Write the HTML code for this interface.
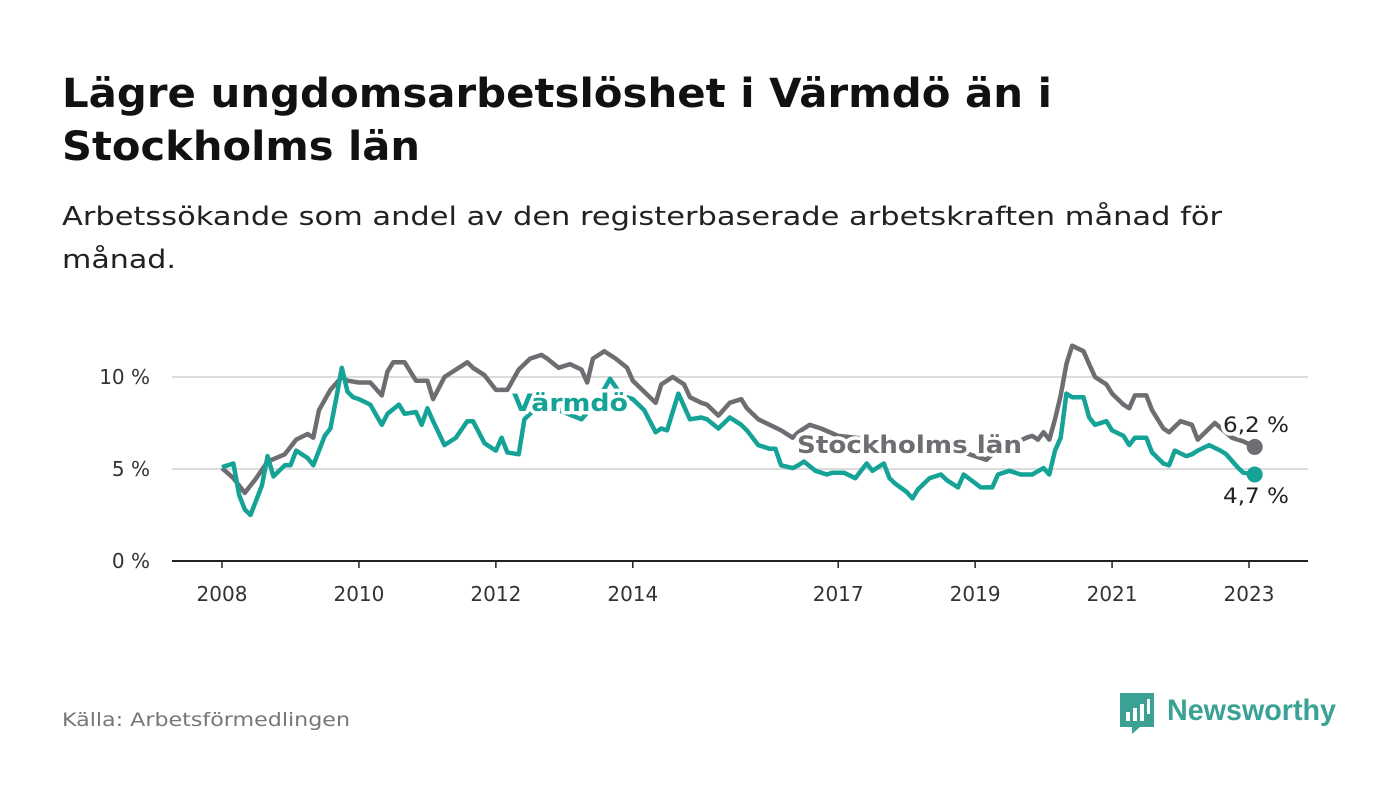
<!DOCTYPE html>
<html><head><meta charset="utf-8"><style>
html,body{margin:0;padding:0;background:#fff;}
svg{display:block;font-family:"DejaVu Sans","Liberation Sans",sans-serif;}
</style></head><body>
<svg id="chart" width="1400" height="794" viewBox="0 0 1400 794" xmlns="http://www.w3.org/2000/svg">
<text x="62" y="107" font-size="40" font-weight="bold" fill="#111" textLength="990" lengthAdjust="spacingAndGlyphs">Lägre ungdomsarbetslöshet i Värmdö än i</text>
<text x="62" y="160" font-size="40" font-weight="bold" fill="#111" textLength="358" lengthAdjust="spacingAndGlyphs">Stockholms län</text>
<text x="62" y="225" font-size="26" fill="#222" textLength="1160" lengthAdjust="spacingAndGlyphs">Arbetssökande som andel av den registerbaserade arbetskraften månad för</text>
<text x="62" y="268" font-size="26" fill="#222" textLength="114" lengthAdjust="spacingAndGlyphs">månad.</text>
<g id="grid"></g>
<g id="series"></g>
<g id="labels"></g>
<text x="62" y="726" font-size="19" fill="#777" textLength="288" lengthAdjust="spacingAndGlyphs">Källa: Arbetsförmedlingen</text>
<g>
<path d="M1120 693 h34 v34 h-14 l-8 7 v-7 h-12 z" fill="#3aa194"/>
<rect x="1126" y="712" width="4" height="9" fill="#fff"/>
<rect x="1133" y="708" width="4" height="13" fill="#fff"/>
<rect x="1140" y="704" width="4" height="17" fill="#fff"/>
<rect x="1147" y="699" width="3" height="15" fill="#fff"/>
<text x="1167" y="720" font-size="30" font-weight="bold" fill="#3aa194" textLength="169" lengthAdjust="spacingAndGlyphs" font-family="Liberation Sans, sans-serif">Newsworthy</text>
</g>
</svg>
<script>
const yTicks = [0, 5, 10];
const yTickLabels = ["0 %", "5 %", "10 %"];
const xTickMonths = [0, 24, 48, 72, 108, 132, 156, 180];
const xTickLabels = ["2008", "2010", "2012", "2014", "2017", "2019", "2021", "2023"];
const stockholmMonths = [0,2,4,6,8,11,13,15,16,17,19,21,22,24,26,28,29,30,32,34,36,37,39,41,43,44,46,48,50,52,54,56,57,59,61,63,64,65,67,69,71,72,74,76,77,79,81,82,84,85,87,89,91,92,94,96,98,100,101,103,105,108,114,119,124,129,134,135,141,142,143,144,145,146,147,148,149,151,152,153,155,156,158,159,160,162,163,165,166,168,170,171,173,174,177,179,181];
const stockholmValues = [5.05,4.5,3.7,4.5,5.4,5.8,6.6,6.9,6.7,8.2,9.3,10.0,9.8,9.7,9.7,9.0,10.3,10.8,10.8,9.8,9.8,8.8,10.0,10.4,10.8,10.5,10.1,9.3,9.3,10.4,11.0,11.2,11.0,10.5,10.7,10.4,9.7,11.0,11.4,11.0,10.5,9.8,9.2,8.6,9.6,10.0,9.6,8.9,8.6,8.5,7.9,8.6,8.8,8.3,7.7,7.4,7.1,6.7,7.0,7.4,7.2,6.8,6.6,6.3,6.3,6.0,5.5,5.8,6.7,6.8,6.6,7.0,6.6,7.7,9.0,10.7,11.7,11.4,10.7,10.0,9.6,9.1,8.5,8.3,9.0,9.0,8.2,7.2,7.0,7.6,7.4,6.6,7.2,7.5,6.7,6.5,6.2];
const varmdoMonths = [0,2,3,4,5,7,8,9,11,12,13,15,16,18,19,20,21,22,23,24,26,28,29,31,32,34,35,36,37,39,41,43,44,46,48,49,50,52,53,56,59,63,66,68,70,72,74,76,77,78,80,82,84,85,87,89,91,92,94,96,97,98,100,101,102,104,106,107,109,111,112,113,114,116,117,118,120,121,122,124,126,127,129,130,133,135,136,138,140,142,144,145,146,147,148,149,151,152,153,155,156,158,159,160,162,163,165,166,167,169,170,171,173,175,176,178,179,181];
const varmdoValues = [5.1,5.3,3.6,2.8,2.5,4.1,5.7,4.6,5.2,5.2,6.0,5.6,5.2,6.8,7.2,8.8,10.5,9.2,8.9,8.8,8.5,7.4,8.0,8.5,8.0,8.1,7.4,8.3,7.6,6.3,6.7,7.6,7.6,6.4,6.0,6.7,5.9,5.8,7.7,8.6,8.2,7.7,8.8,9.9,9.0,8.8,8.2,7.0,7.2,7.1,9.1,7.7,7.8,7.7,7.2,7.8,7.4,7.1,6.3,6.1,6.1,5.2,5.05,5.2,5.4,4.9,4.7,4.8,4.8,4.5,4.9,5.3,4.9,5.3,4.5,4.2,3.75,3.4,3.9,4.5,4.7,4.4,4.0,4.7,4.0,4.0,4.7,4.9,4.7,4.7,5.05,4.7,6.0,6.7,9.1,8.9,8.9,7.8,7.4,7.6,7.1,6.8,6.3,6.7,6.7,5.9,5.3,5.2,6.0,5.7,5.8,6.0,6.3,6.0,5.8,5.1,4.8,4.7];

const NS = "http://www.w3.org/2000/svg";
const x = m => 222 + m * (1249 - 222) / 180;
const y = v => 561 - v * 18.4;
function mk(tag, attrs, parent, txt) {
  const e = document.createElementNS(NS, tag);
  for (const k in attrs) e.setAttribute(k, attrs[k]);
  if (txt !== undefined) e.textContent = txt;
  parent.appendChild(e);
  return e;
}
const grid = document.getElementById('grid');
yTicks.forEach((t, i) => {
  if (t > 0) {
    const gl = mk('line', {x1:172, x2:1308, y1:y(t), y2:y(t), stroke:'#dcdcdc', 'stroke-width':2}, grid);
    
    
  }
  const tl = mk('text', {x:150, y:y(t)+7, 'font-size':20, fill:'#333', 'text-anchor':'end'}, grid, yTickLabels[i]);
  
  
});
const ax = mk('line', {x1:172, x2:1308, y1:561, y2:561, stroke:'#222', 'stroke-width':2}, grid);


xTickMonths.forEach((m, i) => {
  const tk = mk('line', {x1:x(m), x2:x(m), y1:561, y2:568, stroke:'#222', 'stroke-width':1.5}, grid);
  
  
  const tl = mk('text', {x:x(m), y:601, 'font-size':20, fill:'#333', 'text-anchor':'middle'}, grid, xTickLabels[i]);
  
  
});
const series = document.getElementById('series');
function line(ms, vs, color, name) {
  const d = ms.map((m, i) => (i ? 'L' : 'M') + x(m).toFixed(1) + ' ' + y(vs[i]).toFixed(1)).join(' ');
  const p = mk('path', {d:d, fill:'none', stroke:color, 'stroke-width':4.5, 'stroke-linejoin':'round'}, series);
  
  
  const n = ms.length - 1;
  const c = mk('circle', {cx:x(ms[n]), cy:y(vs[n]), r:8, fill:color}, series);
  
  
}
line(stockholmMonths, stockholmValues, '#6e6d72', 'stockholm');
line(varmdoMonths, varmdoValues, '#14a396', 'varmdo');
const labels = document.getElementById('labels');
function lab(tx, X, Y, color, bold, name, size, len) {
  const a = {x:X, y:Y, 'font-size':size, 'font-weight':bold ? 'bold' : 'normal', fill:color, stroke:'#fff', 'stroke-width':7, 'paint-order':'stroke', 'stroke-linejoin':'round'};
  if (len) { a.textLength = len; a.lengthAdjust = 'spacingAndGlyphs'; }
  const t = mk('text', a, labels, tx);
  
  
}
lab('Värmdö', 512, 411, '#14a396', true, 'varmdo-label', 24, 116);
lab('Stockholms län', 797, 453, '#6e6d72', true, 'stockholm-label', 24, 225);
lab(String(stockholmValues[stockholmValues.length-1]).replace('.', ',') + ' %', 1223, 432, '#222', false, 'stockholm-last-value', 21, 66);
lab(String(varmdoValues[varmdoValues.length-1]).replace('.', ',') + ' %', 1223, 503, '#222', false, 'varmdo-last-value', 21, 66);
</script>
</body></html>
